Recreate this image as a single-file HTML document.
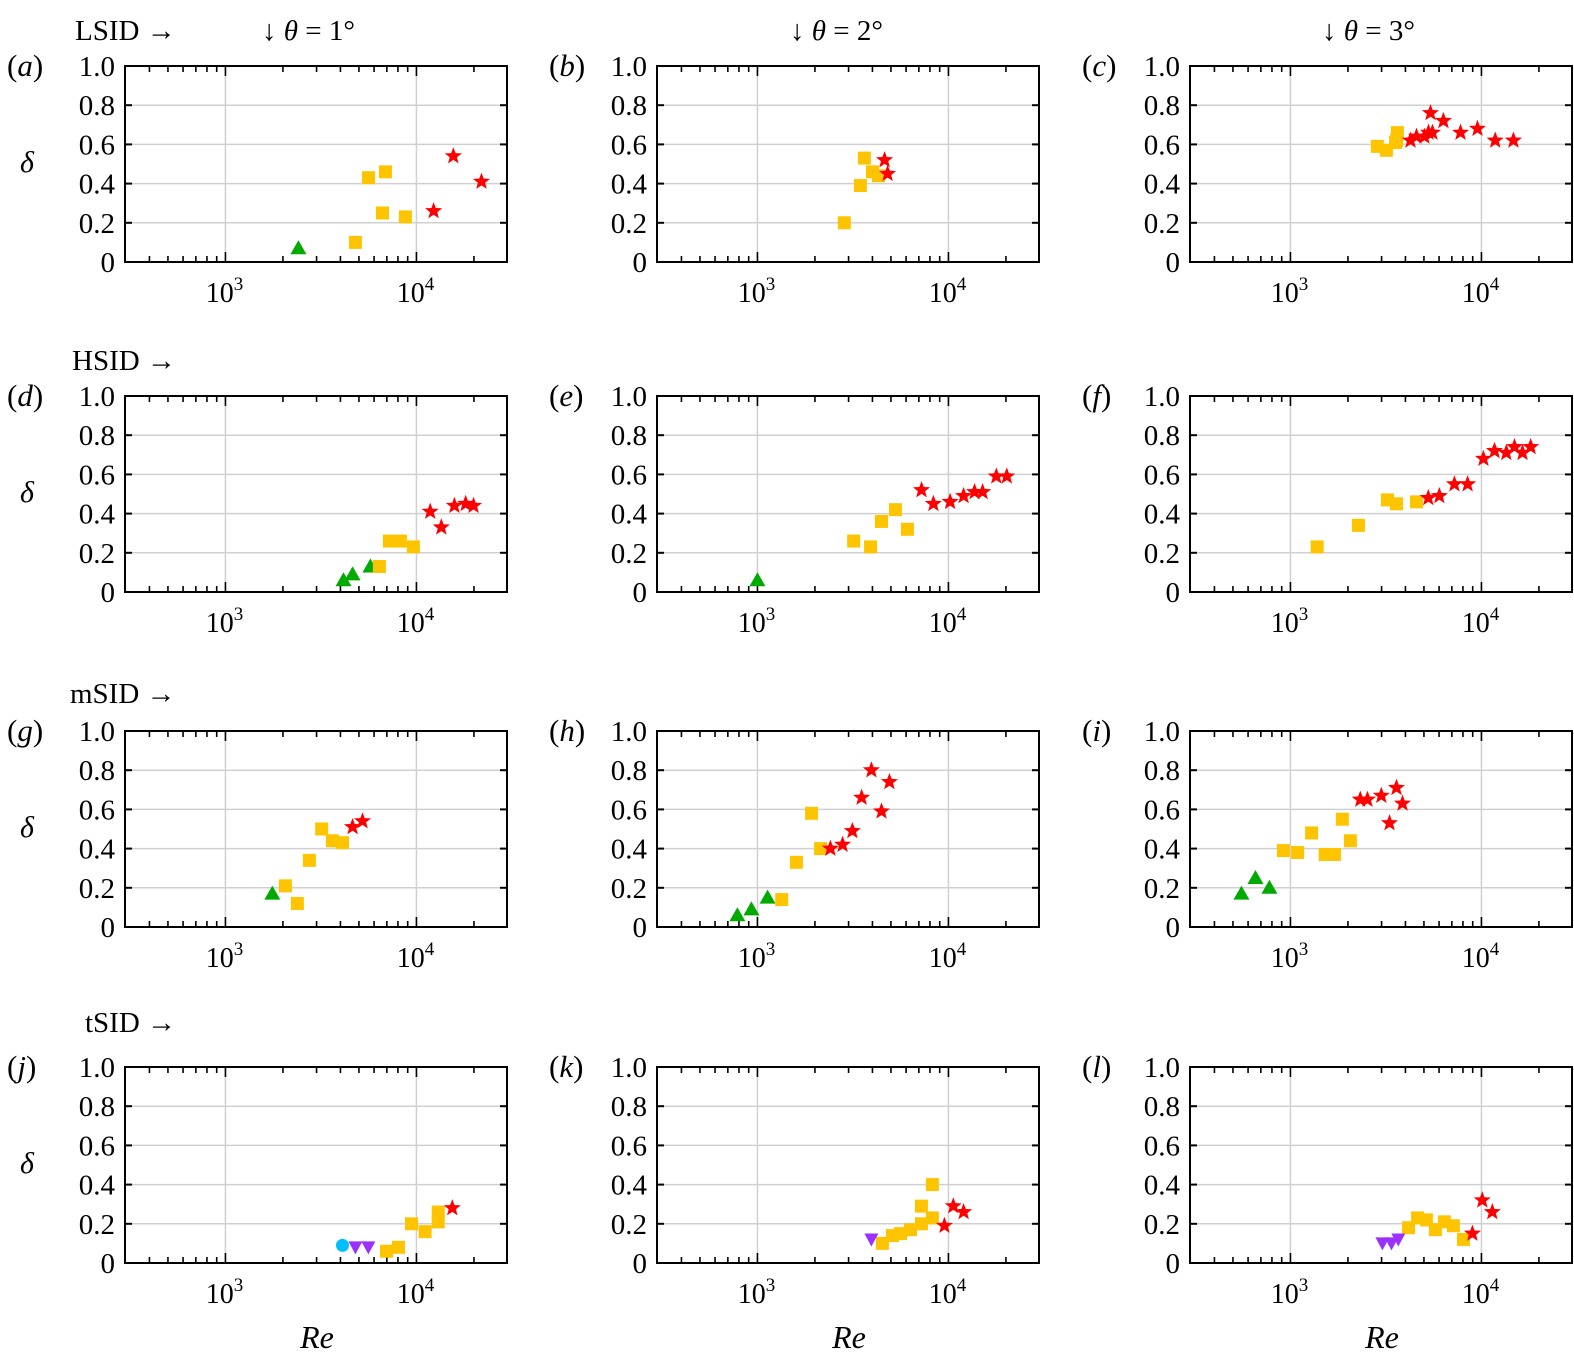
<!DOCTYPE html>
<html><head><meta charset="utf-8"><style>
body{margin:0;background:#fff;}
svg{display:block;font-family:"Liberation Serif","DejaVu Serif",serif;}
</style></head><body>
<svg id="fig" width="1574" height="1367" viewBox="0 0 1574 1367" font-family="Liberation Serif, DejaVu Serif, serif" xmlns="http://www.w3.org/2000/svg"></svg>
<script>
// ---- data: Re values and delta values per panel/series ----
const aTriRe=[2410], aTriD=[0.07];
const aSqRe=[4790,5610,6640,6880,8750], aSqD=[0.10,0.43,0.25,0.46,0.23];
const aStarRe=[12300,15600,21900], aStarD=[0.26,0.54,0.41];

const bSqRe=[2850,3460,3630,4000,4300], bSqD=[0.20,0.39,0.53,0.46,0.44];
const bStarRe=[4630,4800], bStarD=[0.52,0.45];

const cSqRe=[2850,3180,3550,3630,3600], cSqD=[0.59,0.57,0.61,0.66,0.62];
const cStarRe=[4250,4570,5030,5280,5540,5410,6320,7770,9530,11800,14700];
const cStarD=[0.62,0.64,0.64,0.66,0.66,0.76,0.72,0.66,0.68,0.62,0.62];

const dTriRe=[4150,4630,5740], dTriD=[0.06,0.09,0.13];
const dSqRe=[6400,7220,8240,9640], dSqD=[0.13,0.26,0.26,0.23];
const dStarRe=[11800,13500,15800,18100,19900], dStarD=[0.41,0.33,0.44,0.45,0.44];

const eTriRe=[1000], eTriD=[0.06];
const eSqRe=[3190,3910,4460,5280,6100], eSqD=[0.26,0.23,0.36,0.42,0.32];
const eStarRe=[7230,8340,10200,12000,13700,15100,17800,20200], eStarD=[0.52,0.45,0.46,0.49,0.51,0.51,0.59,0.59];

const fSqRe=[1380,2270,3220,3590,4570], fSqD=[0.23,0.34,0.47,0.45,0.46];
const fStarRe=[5270,6020,7220,8460,10240,11700,13500,14900,16400,18100];
const fStarD=[0.48,0.49,0.55,0.55,0.68,0.72,0.71,0.74,0.71,0.74];

const gTriRe=[1760], gTriD=[0.17];
const gSqRe=[2060,2380,2750,3190,3630,4100], gSqD=[0.21,0.12,0.34,0.50,0.44,0.43];
const gStarRe=[4630,5220], gStarD=[0.51,0.54];

const hTriRe=[785,930,1130], hTriD=[0.06,0.09,0.15];
const hSqRe=[1340,1600,1920,2140], hSqD=[0.14,0.33,0.58,0.40];
const hStarRe=[2410,2790,3140,3510,3950,4460,4910], hStarD=[0.40,0.42,0.49,0.66,0.80,0.59,0.74];

const iTriRe=[554,656,776], iTriD=[0.17,0.25,0.20];
const iSqRe=[918,1090,1290,1520,1700,1870,2060], iSqD=[0.39,0.38,0.48,0.37,0.37,0.55,0.44];
const iStarRe=[2320,2530,2990,3300,3590,3860], iStarD=[0.65,0.65,0.67,0.53,0.71,0.63];

const jCircRe=[4100], jCircD=[0.09];
const jDownRe=[4790,5600], jDownD=[0.08,0.08];
const jSqRe=[6970,8050,9420,11100,13000,13000], jSqD=[0.06,0.08,0.20,0.16,0.21,0.26];
const jStarRe=[15400], jStarD=[0.28];

const kDownRe=[3950], kDownD=[0.12];
const kSqRe=[4510,5090,5610,6330,7220,7220,8240,8240], kSqD=[0.10,0.14,0.15,0.17,0.20,0.29,0.23,0.40];
const kStarRe=[9530,10600,12000], kStarD=[0.19,0.29,0.26];

const lDownRe=[3030,3380,3670], lDownD=[0.10,0.10,0.12];
const lSqRe=[4150,4630,5150,5740,6400,7130,8050], lSqD=[0.18,0.23,0.22,0.17,0.21,0.19,0.12];
const lStarRe=[8970,10100,11400], lStarD=[0.15,0.32,0.26];

const yTicks=[0,0.2,0.4,0.6,0.8,1.0];
const yTickLabels=["0","0.2","0.4","0.6","0.8","1.0"];
const panelLetters=["a","b","c","d","e","f","g","h","i","j","k","l"];
const rowTitles=["LSID →","HSID →","mSID →","tSID →"];
const colTitles=["1","2","3"];

const svg=document.getElementById('fig');
const NS="http://www.w3.org/2000/svg";
const FF='Liberation Serif, DejaVu Serif, serif';
function mk(tag,attrs,parent){const e=document.createElementNS(NS,tag);for(const k in attrs)e.setAttribute(k,attrs[k]);if(tag==='text')e.setAttribute('font-family',FF);(parent||svg).appendChild(e);return e;}

const colLeft=[125,657,1190], rowTop=[66,396,731,1067];
const W=382,H=196, LMIN=Math.log10(300)-0.003, PX_DEC=191;

const panels=[
 {tri:[aTriRe,aTriD],sq:[aSqRe,aSqD],star:[aStarRe,aStarD]},
 {sq:[bSqRe,bSqD],star:[bStarRe,bStarD]},
 {sq:[cSqRe,cSqD],star:[cStarRe,cStarD]},
 {tri:[dTriRe,dTriD],sq:[dSqRe,dSqD],star:[dStarRe,dStarD]},
 {tri:[eTriRe,eTriD],sq:[eSqRe,eSqD],star:[eStarRe,eStarD]},
 {sq:[fSqRe,fSqD],star:[fStarRe,fStarD]},
 {tri:[gTriRe,gTriD],sq:[gSqRe,gSqD],star:[gStarRe,gStarD]},
 {tri:[hTriRe,hTriD],sq:[hSqRe,hSqD],star:[hStarRe,hStarD]},
 {tri:[iTriRe,iTriD],sq:[iSqRe,iSqD],star:[iStarRe,iStarD]},
 {circ:[jCircRe,jCircD],down:[jDownRe,jDownD],sq:[jSqRe,jSqD],star:[jStarRe,jStarD]},
 {down:[kDownRe,kDownD],sq:[kSqRe,kSqD],star:[kStarRe,kStarD]},
 {down:[lDownRe,lDownD],sq:[lSqRe,lSqD],star:[lStarRe,lStarD]}
];

function starPts(cx,cy,R){const r=R*0.42;let p=[];for(let i=0;i<10;i++){const a=-Math.PI/2+i*Math.PI/5;const rr=i%2?r:R;p.push((cx+rr*Math.cos(a)).toFixed(1)+","+(cy+rr*Math.sin(a)).toFixed(1));}return p.join(" ");}

const rowTitleX=[75,72,70,85], rowTitleY=[40,370,703,1032];
rowTitles.forEach((t,i)=>{const e=mk('text',{x:rowTitleX[i],y:rowTitleY[i],'font-size':29});e.textContent=t;

});
colTitles.forEach((t,i)=>{const e=mk('text',{x:[262,790,1322][i],y:40,'font-size':29});
e.innerHTML='↓ <tspan font-style="italic">θ</tspan> = '+t+'°';

});

panels.forEach((p,idx)=>{
  const r=Math.floor(idx/3), c=idx%3;
  const L=colLeft[c], T=rowTop[r], B=T+H;
  const g=mk('g',{});
  
  
  const X=re=>L+(Math.log10(re)-LMIN)*PX_DEC;
  const Y=d=>B-d*H;
  yTicks.forEach(v=>{if(v>0&&v<1){const l=mk('line',{x1:L,x2:L+W,y1:Y(v),y2:Y(v),stroke:'#d0d0d0','stroke-width':1.5},g);
    }});
  [1000,10000].forEach(v=>{const l=mk('line',{x1:X(v),x2:X(v),y1:T,y2:B,stroke:'#d0d0d0','stroke-width':1.5},g);
    });
  yTicks.forEach((v,i)=>{
    mk('line',{x1:L,x2:L+7,y1:Y(v),y2:Y(v),stroke:'#000','stroke-width':2},g);
    mk('line',{x1:L+W-7,x2:L+W,y1:Y(v),y2:Y(v),stroke:'#000','stroke-width':2},g);
    const t=mk('text',{x:L-10,y:Y(v)+10,'font-size':29,'text-anchor':'end'},g);t.textContent=yTickLabels[i];
    
  });
  for(let dec=100;dec<=10000;dec*=10){for(let m=1;m<=9;m++){const v=dec*m;const x=X(v);if(x<L+1||x>L+W-1)continue;
    const len=(m===1)?10:6;
    mk('line',{x1:x,x2:x,y1:B,y2:B-len,stroke:'#000','stroke-width':1.6},g);
    mk('line',{x1:x,x2:x,y1:T,y2:T+len,stroke:'#000','stroke-width':1.6},g);}}
  [3,4].forEach(e=>{const t=mk('text',{x:X(Math.pow(10,e))-1,y:B+40,'font-size':28,'text-anchor':'middle'},g);
    t.innerHTML='10<tspan dy="-12" font-size="19">'+e+'</tspan>';
    });
  const bx=mk('rect',{x:L,y:T,width:W,height:H,fill:'none',stroke:'#000','stroke-width':2},g);
  
  const pl=mk('text',{x:L-118+(c===0?0:10),y:T+10,'font-size':31},g);
  pl.innerHTML='(<tspan font-style="italic">'+panelLetters[idx]+'</tspan>)';
  
  if(c===0){const d=mk('text',{x:20,y:T+106,'font-size':30,'font-style':'italic'},g);d.textContent='δ';
    }
  if(r===3){const e=mk('text',{x:L+192,y:1348,'font-size':32,'font-style':'italic','text-anchor':'middle'},g);e.textContent='Re';
    }
  if(p.tri){p.tri[0].forEach((re,i)=>{const x=X(re),y=Y(p.tri[1][i]);
    const m=mk('polygon',{points:`${x},${y-8} ${x-8},${y+6} ${x+8},${y+6}`,fill:'#00aa00'},g);
    });}
  if(p.sq){p.sq[0].forEach((re,i)=>{const x=X(re),y=Y(p.sq[1][i]);
    const m=mk('rect',{x:x-6.5,y:y-6.5,width:13,height:13,fill:'#ffc400'},g);
    });}
  if(p.star){p.star[0].forEach((re,i)=>{const x=X(re),y=Y(p.star[1][i]);
    const m=mk('polygon',{points:starPts(x,y,9),fill:'#ff0000'},g);
    });}
  if(p.down){p.down[0].forEach((re,i)=>{const x=X(re),y=Y(p.down[1][i]);
    const m=mk('polygon',{points:`${x-7},${y-6} ${x+7},${y-6} ${x},${y+7}`,fill:'#9b30ff'},g);
    });}
  if(p.circ){p.circ[0].forEach((re,i)=>{const x=X(re),y=Y(p.circ[1][i]);
    const m=mk('circle',{cx:x,cy:y,r:6.5,fill:'#00bfff'},g);
    });}
});
</script>
</body></html>
